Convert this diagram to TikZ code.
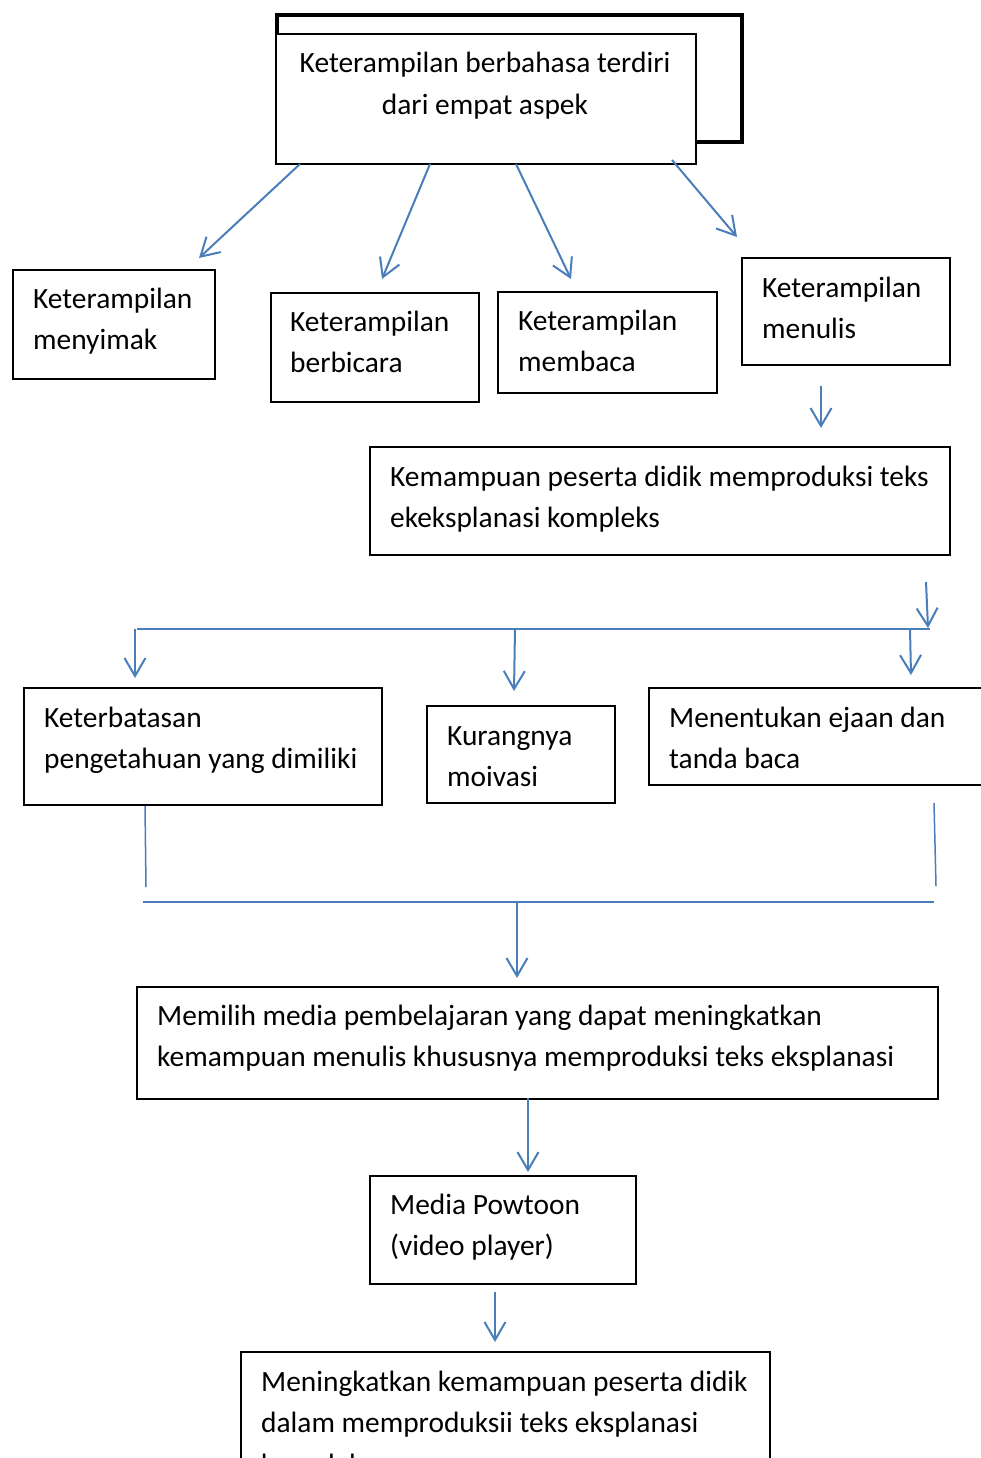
\documentclass[tikz,border=0pt]{standalone}
\usepackage{fontspec}
\setmainfont{Carlito}
\usetikzlibrary{arrows.meta}
\definecolor{arr}{RGB}{74,126,187}
\begin{document}
\begin{tikzpicture}[x=1pt,y=-1pt,
  box/.style={draw=black, line width=1.6pt, fill=white, inner sep=0pt, anchor=north west},
  txt/.style={anchor=base west, inner sep=0pt, align=left, font=\fontsize{29.4}{41.5}\selectfont},
  conn/.style={draw=arr, line width=2pt, -{Straight Barb[length=18pt,width=21pt]}},
  link/.style={draw=arr, line width=2pt}]
\useasboundingbox (0,0) rectangle (981,1458);

% top double box
\node[draw=black, line width=4pt, inner sep=0pt, anchor=north west, minimum width=465pt, minimum height=127pt] (shadow) at (275,13) {};
\node[box, minimum width=420pt, minimum height=130pt] (top) at (275,33) {};
\node[txt, anchor=base, align=center] (toptxt) at (485,114.5) {Keterampilan berbahasa terdiri\\dari empat aspek};

% four skills (anchor = baseline of last line)
\node[box, minimum width=202pt, minimum height=109pt] (simak) at (12,269) {};
\node[txt] (simaktxt) at (33,349.5) {Keterampilan\\menyimak};
\node[box, minimum width=208pt, minimum height=109pt] (bicara) at (270,292) {};
\node[txt] (bicaratxt) at (290,372.5) {Keterampilan\\berbicara};
\node[box, minimum width=219pt, minimum height=101pt] (baca) at (497,291) {};
\node[txt] (bacatxt) at (518,371.5) {Keterampilan\\membaca};
\node[box, minimum width=208pt, minimum height=107pt] (tulis) at (741,257) {};
\node[txt] (tulistxt) at (762,338.5) {Keterampilan\\menulis};

% kemampuan
\node[box, minimum width=580pt, minimum height=108pt] (mampu) at (369,446) {};
\node[txt] (mamputxt) at (390,527.5) {Kemampuan peserta didik memproduksi teks\\ekeksplanasi kompleks};

% problems
\node[box, minimum width=358pt, minimum height=117pt] (batas) at (23,687) {};
\node[txt] (batastxt) at (44,768.5) {Keterbatasan\\pengetahuan yang dimiliki};
\node[box, minimum width=188pt, minimum height=97pt] (kurang) at (426,705) {};
\node[txt] (kurangtxt) at (447,786.5) {Kurangnya\\moivasi};
\node[box, minimum width=360pt, minimum height=97pt] (ejaan) at (648,687) {};
\node[txt] (ejaantxt) at (669,768.5) {Menentukan ejaan dan\\tanda baca};

% solution
\node[box, minimum width=801pt, minimum height=112pt] (pilih) at (136,986) {};
\node[txt] (pilihtxt) at (157,1066.5) {Memilih media pembelajaran yang dapat meningkatkan\\kemampuan menulis khususnya memproduksi teks eksplanasi};
\node[box, minimum width=266pt, minimum height=108pt] (media) at (369,1175) {};
\node[txt] (mediatxt) at (390,1255.5) {Media Powtoon\\(video player)};
\node[box, minimum width=529pt, minimum height=150pt] (tingkat) at (240,1351) {};
\node[txt] (tingkattxt) at (261,1474) {Meningkatkan kemampuan peserta didik\\dalam memproduksii teks eksplanasi\\kompleks};

% connector end points
\coordinate (a1s) at (300,164); \coordinate (a1e) at (199,258);
\coordinate (a2s) at (430,164); \coordinate (a2e) at (382,279);
\coordinate (a3s) at (516,164); \coordinate (a3e) at (571,279);
\coordinate (a4s) at (672,160); \coordinate (a4e) at (737,237);
\coordinate (a5s) at (821,386); \coordinate (a5e) at (821,428);
\coordinate (a6s) at (926,582); \coordinate (a6e) at (928,628);
\coordinate (hL) at (137,629); \coordinate (hR) at (930,629);
\coordinate (b1s) at (135,629); \coordinate (b1e) at (135,678);
\coordinate (b2s) at (515,629); \coordinate (b2e) at (514,691);
\coordinate (b3s) at (910,629); \coordinate (b3e) at (911,675);
\coordinate (v1s) at (145,806); \coordinate (v1e) at (146,887);
\coordinate (v2s) at (934,803); \coordinate (v2e) at (936,886);
\coordinate (gL) at (143,902); \coordinate (gR) at (934,902);
\coordinate (c1s) at (517,902); \coordinate (c1e) at (517,978);
\coordinate (c2s) at (528,1098); \coordinate (c2e) at (528,1172);
\coordinate (c3s) at (495,1292); \coordinate (c3e) at (495,1342);

\draw[conn] (a1s) -- (a1e);
\draw[conn] (a2s) -- (a2e);
\draw[conn] (a3s) -- (a3e);
\draw[conn] (a4s) -- (a4e);
\draw[conn] (a5s) -- (a5e);
\draw[conn] (a6s) -- (a6e);
\draw[link] (hL) -- (hR);
\draw[conn] (b1s) -- (b1e);
\draw[conn] (b2s) -- (b2e);
\draw[conn] (b3s) -- (b3e);
\draw[link, line width=1.5pt] (v1s) -- (v1e);
\draw[link, line width=1.5pt] (v2s) -- (v2e);
\draw[link] (gL) -- (gR);
\draw[conn] (c1s) -- (c1e);
\draw[conn] (c2s) -- (c2e);
\draw[conn] (c3s) -- (c3e);
\end{tikzpicture}
\end{document}
